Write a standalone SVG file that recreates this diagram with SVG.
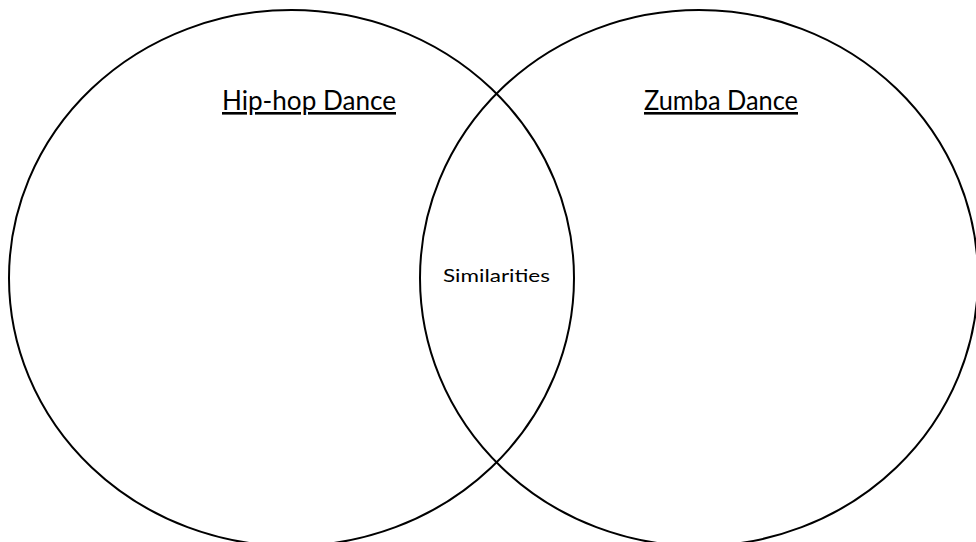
<svg xmlns="http://www.w3.org/2000/svg" width="976" height="542" viewBox="0 0 976 542">
<style>
.circle{fill:none;stroke:#000;stroke-width:2}
.title{font-family:Lato,"Liberation Sans",sans-serif;font-size:26px;fill:#000;text-decoration:underline}
.label{font-family:Lato,"Liberation Sans",sans-serif;font-size:17px;fill:#000}
</style>
<rect width="976" height="542" fill="#fff"/>
<g id="hiphop">
<ellipse class="circle" cx="291.5" cy="278" rx="282.5" ry="268"/>
<text class="title" x="222" y="110" textLength="174" lengthAdjust="spacingAndGlyphs">Hip-hop Dance</text>
</g>
<g id="zumba">
<ellipse class="circle" cx="699" cy="278" rx="279" ry="268"/>
<text class="title" x="644" y="110" textLength="154" lengthAdjust="spacingAndGlyphs">Zumba Dance</text>
</g>
<g id="similarities">
<text class="label" x="443" y="282" textLength="107" lengthAdjust="spacingAndGlyphs">Similarities</text>
</g>
<g id="connectors"/>
</svg>
